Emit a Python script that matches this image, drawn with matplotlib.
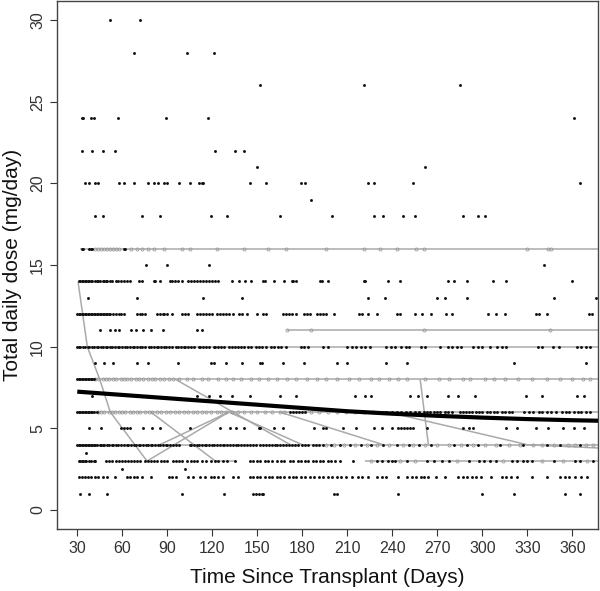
import matplotlib
matplotlib.use('Agg')
import matplotlib.pyplot as plt

plt.rcParams['font.family'] = ['Liberation Sans', 'DejaVu Sans']

# ---------------- data ----------------
X_TICKS = [30, 60, 90, 120, 150, 180, 210, 240, 270, 300, 330, 360]
Y_TICKS = [0, 5, 10, 15, 20, 25, 30]
X_LABEL = "Time Since Transplant (Days)"
Y_LABEL = "Total daily dose (mg/day)"

# observed doses (black dots): days at each dose level
dose_30 = [52, 72]
dose_28 = [68, 103, 121]
dose_26 = [152, 221, 285]
dose_24 = [33, 34, 39, 41, 57, 89, 117, 361]
dose_22 = [33, 40, 47, 55, 122, 135, 141]
dose_21 = [150, 262]
dose_20 = [35, 38, 42, 44, 58, 61, 68, 77, 81, 84, 88, 90, 98, 105, 111, 113, 114,
           145, 156, 179, 182, 224, 228, 254, 365]
dose_19 = [186]
dose_18 = [42, 47, 73, 85, 119, 130, 165, 200, 228, 234, 247, 255, 287, 297, 302]
dose_16 = [33, 34, 38, 39, 40, 61, 62]
dose_15 = [76, 90, 118, 341]
dose_14 = [31, 32, 33, 34, 35, 36, 37, 38, 39, 40, 42, 43, 44, 45, 47, 48, 49, 50, 52, 53,
           56, 57, 59, 61, 63, 65, 71, 73, 81, 82, 85, 92, 93, 95, 97, 100,
           104, 106, 108, 110, 112, 114, 116, 118, 120, 122, 124,
           133, 138, 142, 146, 154, 155, 161, 168, 173, 174, 176, 192, 193, 197,
           221, 222, 237, 245, 277, 281, 290, 307, 316, 360]
dose_13 = [37, 70, 114, 140, 224, 235, 270, 275, 290, 348, 376]
dose_12 = [30, 31, 32, 33, 34, 35, 36, 37, 38, 39, 40, 41, 42, 43, 44, 45, 46, 47, 48, 49,
           50, 51, 52, 54, 56, 58, 59, 61, 70, 72, 73, 75, 83, 85, 87, 88, 90, 93,
           100, 102, 104, 110, 112, 114, 116, 118, 120, 123, 125, 127, 129, 131, 134,
           138, 140, 143, 150, 154, 156, 167, 169, 171, 173, 176, 181, 183, 185, 190, 192, 194,
           196, 201, 218, 220, 224, 230, 243, 245, 255, 260, 266, 276, 280, 304, 309, 315,
           336, 338, 343, 371, 373]
dose_11 = [45, 52, 55, 58, 66, 69, 74, 79, 87, 110, 113]
dose_10 = [30, 31, 32, 34, 35, 37, 38, 40, 41, 43, 44, 46, 47, 49, 50, 52, 53, 55, 57, 58,
           60, 62, 63, 65, 67, 68, 70, 72, 73, 75, 78, 79, 81, 83, 84, 86, 88, 89, 91, 93,
           96, 97, 99, 101, 102, 104, 106, 108, 111, 112, 114, 116, 118, 121, 122, 124,
           126, 128, 131, 133, 135, 137, 139, 141, 144, 146, 149, 151, 153, 156, 159,
           161, 164, 166, 169, 179, 181, 184, 194, 197, 210, 213, 216, 219, 222, 225,
           236, 239, 242, 246, 249, 251, 259, 262, 272, 277, 280, 283, 286, 294, 297, 300,
           305, 310, 313, 316, 337, 340, 347, 351, 363, 366, 369, 372]
dose_9 = [42, 48, 54, 70, 77, 97, 119, 121, 129, 140, 152, 153, 167, 181, 203, 210, 236,
          250, 321, 369]
dose_8 = [30, 31, 32, 33, 34, 35, 36, 37, 38, 39, 40, 41]
dose_7 = [40, 110, 118, 125, 133, 145, 165, 176, 215, 222, 226, 252, 257, 263, 277, 284,
          295, 329, 340, 363, 368]
dose_6 = [30, 31, 32, 33, 34, 35, 36, 37, 38, 39, 40, 41, 43, 172, 174, 176, 178, 180, 182,
          232, 236, 240, 243, 246, 249, 252, 255, 258, 261, 263, 265, 268, 270, 272, 275,
          277, 280, 285, 287, 289, 291, 293, 296, 298, 300, 303, 305, 308, 310, 313, 315,
          318, 320, 328, 331, 334, 338, 340, 343, 346, 349, 353, 356, 358, 361, 364, 366,
          369, 372]
dose_5 = [38, 46, 59, 61, 63, 65, 74, 80, 85, 105, 125, 132, 136, 141, 151, 152, 161, 167,
          188, 194, 196, 207, 216, 228, 233, 240, 244, 246, 248, 250, 252, 254, 263, 287,
          291, 294, 316, 323, 336, 344, 354, 361, 368]
dose_4 = [30, 31, 32, 33, 34, 35, 36, 37, 38, 39, 40, 41, 42, 43, 45, 46, 47, 48, 50, 51,
          53, 54, 56, 57, 59, 61, 63, 64, 66, 68, 69, 71, 72, 74, 76, 77, 79, 80, 82, 84,
          85, 87, 89, 90, 92, 94, 96, 98, 105, 106, 108, 110, 111, 113, 115, 116, 118,
          120, 121, 123, 125, 127, 128, 130, 132, 134, 136, 137, 139, 141, 143, 145, 147,
          149, 152, 154, 156, 158, 160, 162, 163, 165, 167, 169, 171, 173, 175, 177, 180,
          182, 184, 187, 189, 191, 194, 199, 205, 212, 219, 226, 234, 243, 251, 258,
          266, 281, 290, 297, 312, 327, 343, 352, 365]
dose_3_5 = [36]
dose_3 = [31, 32, 33, 34, 35, 36, 38, 39, 41, 42, 49, 51, 53, 56, 58, 60, 62, 64, 66, 68,
          70, 72, 75, 77, 79, 81, 83, 86, 88, 90, 94, 96, 98, 100, 103, 106, 108, 110,
          113, 116, 119, 122, 124, 127, 130, 135, 145, 147, 150, 152, 155, 157, 160, 163,
          166, 168, 172, 174, 177, 179, 182, 184, 187, 189, 192, 194, 197, 199, 202, 205,
          214, 230, 233, 237, 240, 242, 250, 263, 268, 273, 278, 291, 298, 301, 305, 309,
          320, 323, 327, 330, 333, 348, 362, 365, 374]
dose_2_5 = [60, 102]
dose_2 = [31, 33, 35, 37, 39, 42, 44, 47, 50, 55, 63, 65, 68, 70, 73, 79, 91, 93, 96,
          104, 107, 112, 115, 119, 121, 124, 127, 134, 137, 145, 147, 150, 152, 155, 158,
          160, 163, 165, 168, 171, 174, 176, 179, 182, 185, 188, 191, 194, 197, 200, 203,
          206, 209, 213, 217, 220, 224, 230, 233, 236, 244, 250, 253, 256, 259, 261, 264,
          269, 275, 284, 287, 290, 293, 296, 299, 306, 313, 316, 319, 323, 333, 343, 352,
          355, 358, 362, 366, 370]
dose_1 = [32, 38, 50, 100, 128, 147, 149, 151, 153, 154, 201, 203, 244, 300, 321, 355, 365]

DOT_LEVELS = [(30, dose_30), (28, dose_28), (26, dose_26), (24, dose_24), (22, dose_22),
              (21, dose_21), (20, dose_20), (19, dose_19), (18, dose_18), (16, dose_16),
              (15, dose_15), (14, dose_14), (13, dose_13), (12, dose_12), (11, dose_11),
              (10, dose_10), (9, dose_9), (8, dose_8), (7, dose_7), (6, dose_6),
              (5, dose_5), (4, dose_4), (3.5, dose_3_5), (3, dose_3), (2.5, dose_2_5),
              (2, dose_2), (1, dose_1)]

# individual patient trajectories (gray lines): (days, doses)
traj_16 = ([32, 377], [16, 16])
traj_11 = ([170, 377], [11, 11])
traj_10 = ([30, 377], [10, 10])
traj_8 = ([30, 377], [8, 8])
traj_6 = ([30, 377], [6, 6])
traj_4 = ([30, 377], [4, 4])
traj_3 = ([222, 377], [3, 3])
traj_a = ([30.5, 36.7, 45, 52, 76.5, 131, 180], [14, 10, 8, 6, 3, 6, 4])
traj_b = ([79, 122, 135], [6, 3, 3])
traj_c = ([85, 131], [4, 6])
traj_d = ([95.5, 172], [8, 4])
traj_e = ([165, 234], [6, 4])
traj_f = ([237, 330, 377], [6, 4, 3.8])
traj_g = ([258.5, 264], [8, 4])
TRAJECTORIES = [traj_16, traj_11, traj_10, traj_8, traj_6, traj_4, traj_3,
                traj_a, traj_b, traj_c, traj_d, traj_e, traj_f, traj_g]

# observations of the gray-line patients (small gray circles)
gray_16 = [42, 44, 46, 48, 50, 52, 54, 56, 58, 66, 70, 73, 77, 81, 88, 100, 105, 123, 141,
           157, 169, 196, 221, 232, 243, 256, 261, 330, 344, 346]
gray_11 = [170, 186, 261, 345]
gray_8 = [42, 44, 47, 49, 51, 54, 56, 59, 61, 63, 66, 69, 71, 74, 77, 80, 82, 85, 88, 91,
          94, 98, 103, 107, 113, 117, 124, 129, 134, 139, 146, 151, 157, 163, 170, 176,
          183, 190, 196, 203, 211, 218, 226, 231, 238, 244, 250, 262, 271, 278, 287, 292,
          302, 308, 315, 324, 333, 343, 352, 360, 367, 372]
gray_6 = [44, 46, 48, 51, 53, 55, 58, 60, 62, 65, 67, 70, 72, 75, 78, 80, 83, 86, 89, 92,
          95, 98, 101, 104, 107, 110, 113, 116, 119, 123, 126, 129, 133, 137, 141, 146,
          150, 155, 160, 165, 168, 186, 191, 197, 203, 209, 215, 221, 227]
gray_4 = [196, 201, 208, 215, 223, 230, 238, 247, 254, 262, 270, 278, 286, 294, 302, 309,
          318, 325, 334, 340, 348, 357, 362, 369, 374]
gray_3 = [226, 245, 255, 283, 314, 340, 354, 370]
GRAY_LEVELS = [(16, gray_16), (11, gray_11), (8, gray_8), (6, gray_6), (4, gray_4),
               (3, gray_3)]

# fitted mean trend (thick black line)
trend_days = [30, 60, 90, 120, 150, 180, 210, 240, 270, 300, 330, 360, 377]
trend_dose = [7.25, 7.05, 6.85, 6.65, 6.45, 6.25, 6.05, 5.9, 5.77, 5.66, 5.57, 5.5, 5.47]

# ---------------- drawing ----------------
fig = plt.figure(figsize=(6.0, 5.91), dpi=100)
ax = fig.add_axes([57 / 600, 1 - 529 / 591, (598 - 57) / 600, (529 - 1) / 591])

for xs, ys in TRAJECTORIES:
    ax.plot(xs, ys, color='#aaaaaa', lw=1.1, zorder=1, solid_capstyle='butt')

for lvl, days in GRAY_LEVELS:
    ax.plot(days, [lvl] * len(days), linestyle='none', marker='o', ms=2.2,
            mfc='none', mec='#999999', mew=0.6, zorder=2)

for lvl, days in DOT_LEVELS:
    ax.plot(days, [lvl] * len(days), linestyle='none', marker='o', ms=2.1,
            color='#111111', mew=0, zorder=3)

ax.plot(trend_days, trend_dose, color='black', lw=3.0, zorder=4, solid_capstyle='butt')

ax.set_xlim(16.5, 377)
ax.set_ylim(-1.16, 31.17)
ax.set_xticks(X_TICKS)
ax.set_yticks(Y_TICKS)
ax.tick_params(direction='out', length=5, width=0.8, labelsize=11.5, colors='#333333',
               pad=3.5)
for lab in ax.get_yticklabels():
    lab.set_rotation(90)
    lab.set_va('center')
for s in ax.spines.values():
    s.set_color('#444444')
    s.set_linewidth(1.0)

ax.set_xlabel(X_LABEL, fontsize=15, labelpad=9, color='#111111')
ax.set_ylabel(Y_LABEL, fontsize=15, labelpad=6, color='#111111')

fig.savefig('out.png', dpi=100)
